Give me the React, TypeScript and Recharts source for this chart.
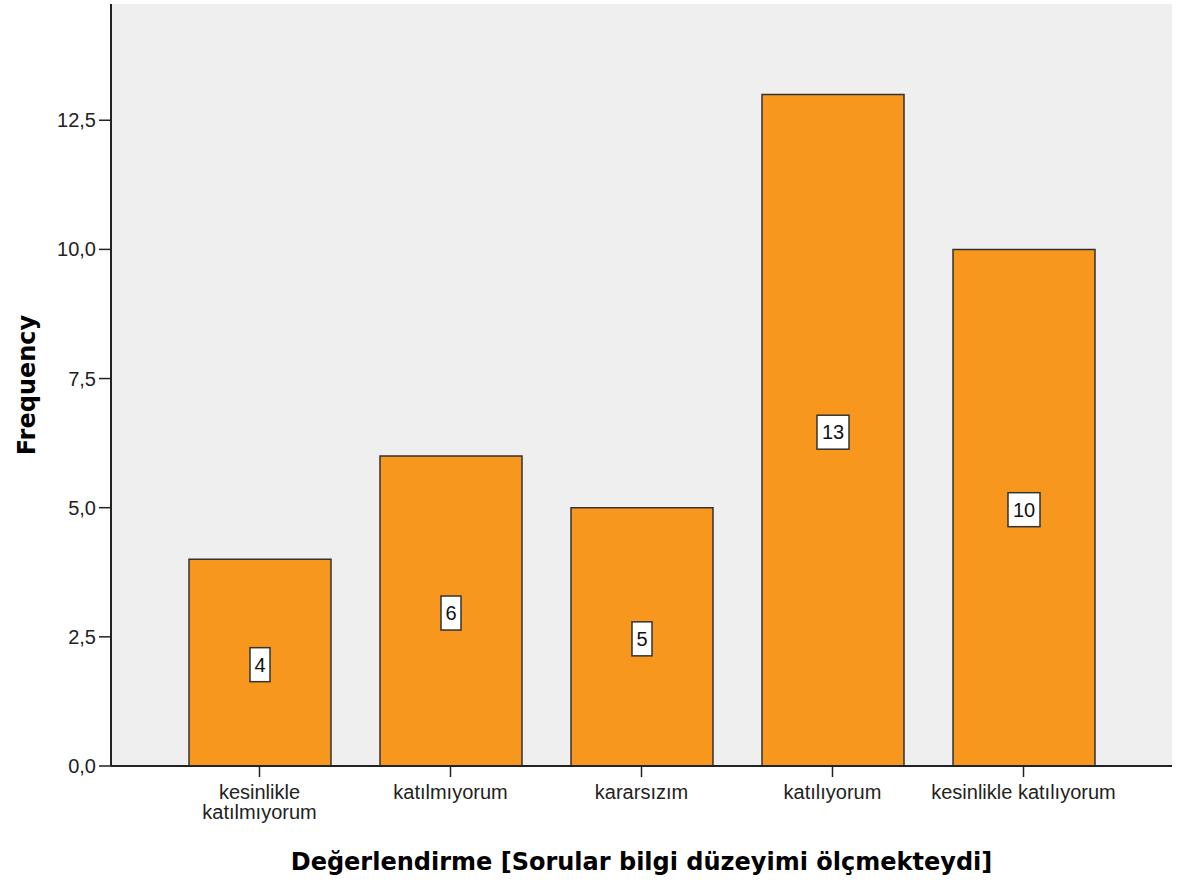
import { BarChart, Bar, XAxis, YAxis, CartesianGrid, LabelList } from 'recharts';

const categories = [
  'kesinlikle katılmıyorum',
  'katılmıyorum',
  'kararsızım',
  'katılıyorum',
  'kesinlikle katılıyorum',
];
const frequencies = [4, 6, 5, 13, 10];
const yTicks = [0, 2.5, 5, 7.5, 10, 12.5];

const data = categories.map((name, i) => ({ name, value: frequencies[i] }));

const TICK_FONT = '"Liberation Sans", Arial, sans-serif';
const TITLE_FONT = '"DejaVu Sans", Verdana, sans-serif';

// SPSS wraps labels that don't fit in the category band
const MAX_LINE_CHARS = 22;

function wrapLabel(label: string): string[] {
  if (label.length <= MAX_LINE_CHARS) return [label];
  const words = label.split(' ');
  const lines: string[] = [];
  let cur = '';
  for (const w of words) {
    const next = cur ? `${cur} ${w}` : w;
    if (next.length > MAX_LINE_CHARS / 2 + 1 && cur) {
      lines.push(cur);
      cur = w;
    } else {
      cur = next;
    }
  }
  if (cur) lines.push(cur);
  return lines;
}

function CategoryTick(props: any) {
  const { x, y, payload } = props;
  const lines = wrapLabel(String(payload.value));
  return (
    <text
      x={x}
      y={y}
      textAnchor="middle"
      fill="#222"
      style={{ fontFamily: TICK_FONT, fontSize: 20 }}
    >
      {lines.map((line, i) => (
        <tspan key={i} x={x} dy={i === 0 ? 20 : 20}>
          {line}
        </tspan>
      ))}
    </text>
  );
}

function ValueBox(props: any) {
  const { x, y, width, height, value } = props;
  const cx = x + width / 2;
  const cy = y + height / 2 + 2;
  const w = String(value).length > 1 ? 32 : 20;
  return (
    <g>
      <rect x={cx - w / 2} y={cy - 17} width={w} height={34} fill="#fff" stroke="#333" strokeWidth={1.5} />
      <text
        x={cx}
        y={cy + 7}
        textAnchor="middle"
        fill="#111"
        style={{ fontFamily: TICK_FONT, fontSize: 20 }}
      >
        {value}
      </text>
    </g>
  );
}

export default function App() {
  return (
    <div style={{ position: 'absolute', left: 0, top: 0, background: '#fff' }}>
      <BarChart
        width={1180}
        height={884}
        data={data}
        margin={{ top: 4, right: 8, bottom: 0, left: 0 }}
      >
        <CartesianGrid fill="#efefef" horizontal={false} vertical={false} />
        <XAxis
          dataKey="name"
          padding={{ left: 53, right: 53 }}
          height={118}
          interval={0}
          tickSize={11}
          tickLine={{ stroke: '#222', strokeWidth: 1.5 }}
          axisLine={{ stroke: '#222', strokeWidth: 2 }}
          tick={<CategoryTick />}
          label={{
            value: 'Değerlendirme [Sorular bilgi düzeyimi ölçmekteydi]',
            position: 'insideBottom',
            offset: 14,
            fill: '#000',
            style: { fontFamily: TITLE_FONT, fontSize: 24, fontWeight: 'bold' },
          }}
        />
        <XAxis
          xAxisId="top"
          orientation="top"
          dataKey="name"
          height={0}
          tick={false}
          tickLine={false}
          axisLine={{ stroke: '#555', strokeWidth: 2 }}
        />
        <YAxis
          width={111}
          domain={[0, 14.75]}
          ticks={yTicks}
          interval={0}
          tickSize={12}
          tickMargin={3}
          tickLine={{ stroke: '#222', strokeWidth: 1.5 }}
          axisLine={{ stroke: '#222', strokeWidth: 2 }}
          tick={{ fill: '#222', fontFamily: TICK_FONT, fontSize: 20 }}
          tickFormatter={(v: number) => v.toFixed(1).replace('.', ',')}
          label={{
            value: 'Frequency',
            angle: -90,
            position: 'insideLeft',
            offset: 26,
            fill: '#000',
            style: { fontFamily: TITLE_FONT, fontSize: 24, fontWeight: 'bold', textAnchor: 'middle' },
          }}
        />
        <YAxis
          yAxisId="right"
          orientation="right"
          width={0}
          domain={[0, 14.75]}
          tick={false}
          tickLine={false}
          axisLine={{ stroke: '#555', strokeWidth: 2 }}
        />
        <Bar
          dataKey="value"
          barSize={142}
          fill="#f7971e"
          stroke="#333"
          strokeWidth={1.5}
          isAnimationActive={false}
        >
          <LabelList dataKey="value" content={<ValueBox />} />
        </Bar>
      </BarChart>
    </div>
  );
}
